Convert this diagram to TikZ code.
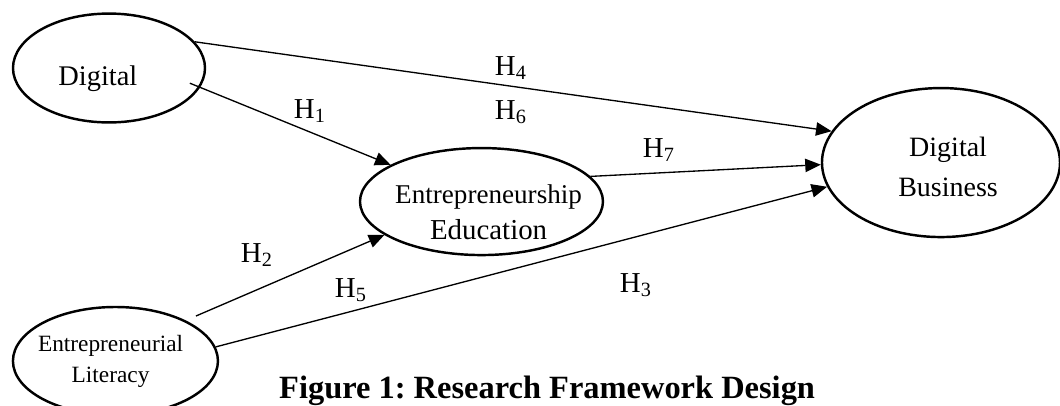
\documentclass[tikz,border=0pt]{standalone}
\usepackage{fontspec}
\setmainfont{Liberation Serif}
\usetikzlibrary{shapes.geometric,arrows.meta}

\tikzstyle{oval} = [draw, ellipse, line width=1.1pt, align=center, inner xsep=-8pt, inner ysep=0pt]
\tikzstyle{arrow} = [line width=0.6pt,-{Triangle[length=7pt,width=6pt]}]
\tikzstyle{hyp} = [font=\fontsize{13}{15}\selectfont, inner sep=0pt]

\begin{document}
\begin{tikzpicture}[node distance=6cm]
\useasboundingbox (0,0) rectangle (477pt,-182.25pt);

% the four constructs (text sits a little off centre in each oval)
\node (1) [oval, minimum width=86.4pt, minimum height=49pt, text height=16pt, text depth=0pt, font=\fontsize{12.8}{16}\selectfont] at (49.05pt,-30.6pt) {\hspace*{-10pt}Digital};
\node (2) [oval, right of=1, xshift=-3.1pt, yshift=-60.1pt, minimum width=109.35pt, minimum height=48.15pt, inner ysep=-6pt, font=\fontsize{13}{16}\selectfont] {\hspace*{6.4pt}\rule{0pt}{18pt}{\fontsize{12.2}{12}\selectfont Entrepreneurship}\\\hspace*{6.4pt}Education};
\node (3) [oval, right of=2, xshift=36.06pt, yshift=17.55pt, minimum width=107.1pt, minimum height=67.05pt, font=\fontsize{12.6}{18}\selectfont] {\hspace*{6.4pt}\rule{0pt}{12.5pt}Digital\\\hspace*{6.4pt}Business};
\node (4) [oval, below of=1, xshift=2.9pt, yshift=38.87pt, minimum width=92.25pt, minimum height=48.6pt, font=\fontsize{10.5}{14}\selectfont] {\hspace*{-4.4pt}Entrepreneurial\\\hspace*{-4.4pt}Literacy};

% hypotheses
\node (h1) [hyp] at (139.5pt,-49.95pt) {H\textsubscript{1}};
\node (h2) [hyp] at (115.65pt,-114.75pt) {H\textsubscript{2}};
\node (h3) [hyp] at (286.2pt,-128.25pt) {H\textsubscript{3}};
\node (h4) [hyp] at (229.95pt,-30.6pt) {H\textsubscript{4}};
\node (h5) [hyp] at (157.95pt,-130.5pt) {H\textsubscript{5}};
\node (h6) [hyp] at (229.95pt,-50.4pt) {H\textsubscript{6}};
\node (h7) [hyp] at (296.55pt,-67.5pt) {H\textsubscript{7}};

\node (cap) [anchor=base, font=\fontsize{14.6}{16}\selectfont\bfseries] at (246.2pt,-179.1pt) {Figure 1:\ Research Framework Design};

\draw [arrow] (1.17) -- (3.164);
\draw [arrow, shorten <=-5pt] (1.-12) -- (2.158);
\draw [arrow] (2.13) -- (3.181);
\draw [arrow, shorten <=5pt] (4.30) -- (2.199);
\draw [arrow] (4.8) -- (3.192);

\end{tikzpicture}
\end{document}
